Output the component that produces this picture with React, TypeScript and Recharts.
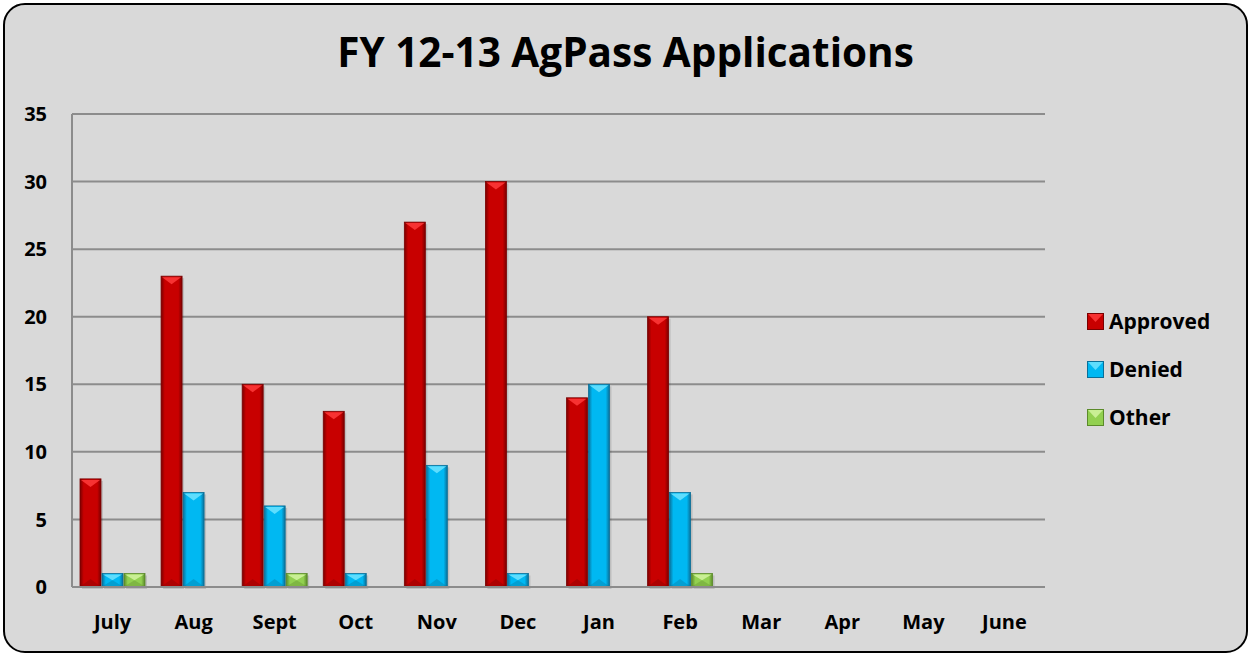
import { BarChart, Bar, XAxis, YAxis, CartesianGrid } from "recharts";

const months = ["July", "Aug", "Sept", "Oct", "Nov", "Dec", "Jan", "Feb", "Mar", "Apr", "May", "June"];
const approved = [8, 23, 15, 13, 27, 30, 14, 20, null, null, null, null];
const denied = [1, 7, 6, 1, 9, 1, 15, 7, null, null, null, null];
const other = [1, 0, 1, 0, 0, 0, 0, 1, null, null, null, null];
const yTicks = [0, 5, 10, 15, 20, 25, 30, 35];

const colors: Record<string, { base: string; dark: string; light: string }> = {
    approved: { base: "#c80000", dark: "#7a0000", light: "#ff3b3b" },
    denied: { base: "#00b8f2", dark: "#0a6f98", light: "#6fe3ff" },
    other: { base: "#92d050", dark: "#5b8a2a", light: "#d2f5a0" },
};

const data = months.map((m, i) => ({
    month: m,
    approved: approved[i],
    denied: denied[i],
    other: other[i],
}));

const font = "'Open Sans', 'DejaVu Sans', sans-serif";

// bevelled bar similar to the Excel "bevel" style
const BevelBar = (key: string) => (props: any) => {
    const { x, y, width, height } = props;
    if (!height || height <= 0) return null;
    const c = colors[key];
    const gid = `grad-${key}`;
    const tri = Math.min(8, height / 2);
    return (
        <g>
            <defs>
                <linearGradient id={gid} x1="0" y1="0" x2="1" y2="0">
                    <stop offset="0" stopColor={c.dark} />
                    <stop offset="0.18" stopColor={c.base} />
                    <stop offset="0.82" stopColor={c.base} />
                    <stop offset="1" stopColor={c.dark} />
                </linearGradient>
            </defs>
            <rect x={x + 2} y={y + 2} width={width} height={height} fill="rgba(0,0,0,0.12)" />
            <rect x={x} y={y} width={width} height={height} fill={`url(#${gid})`} stroke={c.dark} strokeWidth={0.8} />
            <polygon points={`${x + 1},${y + 1} ${x + width - 1},${y + 1} ${x + width / 2},${y + tri}`} fill={c.light} opacity={0.85} />
            <polygon points={`${x + 1},${y + height - 1} ${x + width - 1},${y + height - 1} ${x + width / 2},${y + height - tri}`} fill={c.dark} opacity={0.35} />
        </g>
    );
};

const LegendIcon = ({ k }: { k: string }) => {
    const c = colors[k];
    return (
        <svg width={17} height={17} style={{ marginRight: 5 }}>
            <rect x={0.5} y={0.5} width={16} height={16} fill={c.base} stroke={c.dark} />
            <polygon points="1,1 16,1 8.5,9" fill={c.light} opacity={0.85} />
        </svg>
    );
};

const legendItems = [
    ["approved", "Approved"],
    ["denied", "Denied"],
    ["other", "Other"],
];

export default function App() {
    return (
        <div style={{ position: "fixed", left: 0, top: 0, width: 1251, height: 656 }}>
            <div
                style={{
                    position: "absolute",
                    left: 3,
                    top: 3,
                    width: 1241,
                    height: 646,
                    background: "#d9d9d9",
                    border: "2px solid #000",
                    borderRadius: 22,
                }}
            />
            <div
                style={{
                    position: "absolute",
                    left: 0,
                    top: 24,
                    width: 1251,
                    textAlign: "center",
                    fontFamily: font,
                    fontWeight: 700,
                    fontSize: 40.5,
                    color: "#000",
                }}
            >
                FY 12-13 AgPass Applications
            </div>
            <div style={{ position: "absolute", left: 0, top: 0 }}>
                <BarChart
                    width={1251}
                    height={656}
                    data={data}
                    margin={{ top: 114, right: 206, bottom: 39, left: 0 }}
                    barCategoryGap={8}
                    barGap={1}
                >
                    <CartesianGrid vertical={false} stroke="#8c8c8c" strokeWidth={2} />
                    <XAxis
                        dataKey="month"
                        axisLine={{ stroke: "#8c8c8c", strokeWidth: 2 }}
                        tickLine={false}
                        tickMargin={22}
                        height={30}
                        tick={{ fontFamily: font, fontWeight: 700, fontSize: 20, fill: "#000" }}
                    />
                    <YAxis
                        width={72}
                        domain={[0, 35]}
                        ticks={yTicks}
                        axisLine={{ stroke: "#8c8c8c", strokeWidth: 2 }}
                        tickLine={false}
                        tickMargin={19}
                        tick={{ fontFamily: font, fontWeight: 700, fontSize: 20, fill: "#000" }}
                    />
                    <Bar dataKey="approved" name="Approved" shape={BevelBar("approved")} isAnimationActive={false} />
                    <Bar dataKey="denied" name="Denied" shape={BevelBar("denied")} isAnimationActive={false} />
                    <Bar dataKey="other" name="Other" shape={BevelBar("other")} isAnimationActive={false} />
                </BarChart>
            </div>
            <div
                style={{
                    position: "absolute",
                    left: 1087,
                    top: 297,
                    fontFamily: font,
                    fontWeight: 700,
                    fontSize: 21,
                    color: "#000",
                }}
            >
                {legendItems.map(([k, label]) => (
                    <div key={k} style={{ display: "flex", alignItems: "center", height: 48 }}>
                        <LegendIcon k={k} />
                        <span>{label}</span>
                    </div>
                ))}
            </div>
        </div>
    );
}
